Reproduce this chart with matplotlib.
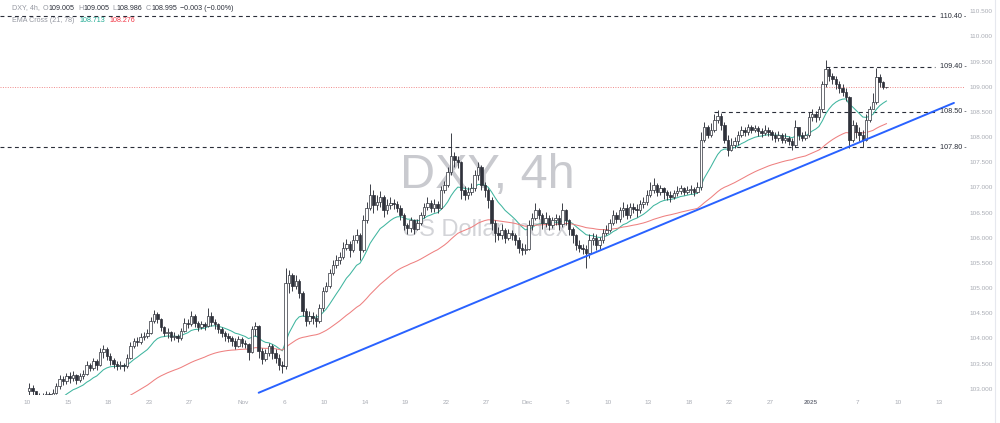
import numpy as np
import pandas as pd
import matplotlib
matplotlib.use("Agg")
import matplotlib.pyplot as plt
from matplotlib.patches import Rectangle
from matplotlib.collections import PatchCollection

plt.rcParams['font.family'] = ['Liberation Sans', 'DejaVu Sans']

# DXY 4h, one row per session day (Oct 10 2024 .. Jan 9 2025)
close_rows = [
    [103.02, 102.95, 102.80, 102.86],  # Oct 10
    [102.84, 102.90, 102.86, 102.92],
    [103.05, 103.20, 103.15, 103.25],
    [103.22, 103.28, 103.18, 103.25],
    [103.30, 103.48, 103.42, 103.55],
    [103.48, 103.72, 103.78, 103.65],
    [103.58, 103.50, 103.45, 103.48],
    [103.45, 103.62, 103.85, 103.95],  # Oct 21
    [103.92, 104.02, 104.05, 104.10],
    [104.35, 104.48, 104.38, 104.22],
    [104.10, 104.12, 104.02, 104.05],
    [104.00, 104.15, 104.30, 104.28],
    [104.45, 104.30, 104.22, 104.28],  # Oct 28
    [104.25, 104.45, 104.32, 104.28],
    [104.18, 104.10, 104.05, 104.00],
    [103.95, 103.85, 103.98, 103.90],
    [103.88, 103.72, 104.18, 104.25],
    [103.75, 103.60, 103.70, 103.85],  # Nov 4
    [103.70, 103.62, 103.48, 103.45],
    [105.10, 105.25, 105.05, 105.15],
    [104.90, 104.55, 104.35, 104.45],
    [104.40, 104.35, 104.60, 104.95],
    [105.05, 105.30, 105.45, 105.55],  # Nov 11
    [105.62, 105.80, 105.88, 105.75],
    [105.95, 106.05, 105.75, 106.35],
    [106.60, 106.85, 106.65, 106.72],
    [106.80, 106.55, 106.65, 106.70],
    [106.68, 106.60, 106.45, 106.25],  # Nov 18
    [106.20, 106.35, 106.18, 106.30],
    [106.45, 106.62, 106.70, 106.60],
    [106.68, 106.60, 106.95, 107.05],
    [107.30, 107.62, 107.55, 107.50],
    [106.95, 106.85, 106.90, 106.98],  # Nov 25
    [107.25, 107.40, 107.05, 106.95],
    [106.75, 106.30, 106.10, 106.05],
    [106.15, 106.00, 106.10, 106.05],
    [105.95, 105.80, 105.75, 105.78],
    [106.25, 106.40, 106.55, 106.45],  # Dec 2
    [106.30, 106.40, 106.25, 106.35],
    [106.40, 106.28, 106.55, 106.35],
    [106.18, 106.05, 105.85, 105.80],
    [105.78, 105.70, 105.95, 106.00],
    [105.85, 105.95, 106.10, 106.15],  # Dec 9
    [106.30, 106.45, 106.38, 106.55],
    [106.60, 106.45, 106.62, 106.58],
    [106.55, 106.68, 106.72, 106.85],
    [106.95, 107.05, 106.90, 106.98],
    [106.90, 106.85, 106.80, 106.88],  # Dec 16
    [106.92, 106.98, 106.90, 106.95],
    [106.96, 106.90, 107.00, 107.95],
    [108.20, 108.05, 108.15, 108.35],
    [108.42, 108.25, 107.95, 107.75],
    [107.85, 107.92, 108.05, 108.15],  # Dec 23
    [108.10, 108.20, 108.15, 108.18],
    [108.12, 108.08, 108.15, 108.10],
    [108.05, 107.98, 108.05, 107.95],
    [107.98, 107.92, 107.85, 108.20],  # Dec 30
    [108.05, 107.98, 108.05, 108.40],
    [108.45, 108.40],                  # Jan 1
    [108.55, 109.05, 109.35, 109.22],
    [109.15, 109.05, 108.98, 108.90],
    [108.80, 107.95, 108.25, 108.10],  # Jan 6
    [108.05, 107.95, 108.35, 108.55],
    [108.70, 109.20, 109.10, 109.005],
    [108.995],                         # Jan 9
]
high_rows = [
    [103.12, 103.08, 102.96, 102.92],
    [102.92, 102.95, 102.93, 103.00],
    [103.12, 103.28, 103.26, 103.32],
    [103.33, 103.36, 103.30, 103.32],
    [103.38, 103.55, 103.52, 103.62],
    [103.60, 103.80, 103.86, 103.82],
    [103.70, 103.62, 103.55, 103.56],
    [103.52, 103.68, 103.92, 104.00],
    [104.02, 104.10, 104.12, 104.18],
    [104.42, 104.56, 104.52, 104.40],
    [104.25, 104.20, 104.15, 104.12],
    [104.08, 104.20, 104.40, 104.38],
    [104.55, 104.48, 104.35, 104.34],
    [104.33, 104.60, 104.52, 104.38],
    [104.30, 104.22, 104.15, 104.10],
    [104.04, 104.00, 104.05, 104.02],
    [103.96, 103.90, 104.25, 104.32],
    [104.26, 103.80, 103.78, 103.90],
    [103.88, 103.78, 103.68, 103.55],
    [105.40, 105.35, 105.30, 105.25],
    [105.18, 104.95, 104.60, 104.55],
    [104.52, 104.48, 104.68, 105.02],
    [105.12, 105.38, 105.55, 105.65],
    [105.72, 105.92, 105.98, 105.94],
    [106.05, 106.18, 106.10, 106.45],
    [106.72, 107.07, 106.95, 106.85],
    [106.92, 106.85, 106.78, 106.80],
    [106.78, 106.74, 106.65, 106.50],
    [106.30, 106.42, 106.38, 106.38],
    [106.52, 106.70, 106.80, 106.75],
    [106.78, 106.74, 107.02, 107.12],
    [107.40, 108.08, 107.70, 107.62],
    [107.52, 107.02, 107.00, 107.08],
    [107.35, 107.50, 107.45, 107.10],
    [106.98, 106.80, 106.35, 106.22],
    [106.28, 106.20, 106.18, 106.15],
    [106.10, 106.02, 105.90, 105.88],
    [106.35, 106.50, 106.70, 106.60],
    [106.50, 106.52, 106.45, 106.42],
    [106.48, 106.45, 106.70, 106.58],
    [106.38, 106.22, 106.08, 105.95],
    [105.88, 105.85, 106.08, 106.10],
    [106.08, 106.02, 106.18, 106.25],
    [106.38, 106.55, 106.52, 106.62],
    [106.72, 106.68, 106.70, 106.70],
    [106.68, 106.76, 106.80, 106.95],
    [107.10, 107.18, 107.08, 107.05],
    [107.00, 106.95, 106.92, 106.95],
    [107.02, 107.05, 107.00, 107.02],
    [107.04, 107.00, 107.10, 108.10],
    [108.30, 108.25, 108.28, 108.45],
    [108.54, 108.48, 108.30, 108.05],
    [107.98, 108.00, 108.12, 108.22],
    [108.20, 108.26, 108.24, 108.24],
    [108.22, 108.18, 108.24, 108.20],
    [108.14, 108.10, 108.12, 108.08],
    [108.08, 108.02, 107.98, 108.35],
    [108.20, 108.10, 108.12, 108.50],
    [108.55, 108.52],
    [108.62, 109.12, 109.54, 109.40],
    [109.28, 109.22, 109.12, 109.05],
    [108.98, 108.82, 108.35, 108.30],
    [108.20, 108.15, 108.45, 108.62],
    [108.88, 109.38, 109.25, 109.12],
    [109.005],
]
low_rows = [
    [102.85, 102.84, 102.74, 102.76],
    [102.75, 102.80, 102.80, 102.84],
    [102.90, 103.00, 103.08, 103.10],
    [103.12, 103.16, 103.10, 103.14],
    [103.20, 103.28, 103.35, 103.38],
    [103.38, 103.45, 103.62, 103.58],
    [103.48, 103.42, 103.38, 103.40],
    [103.36, 103.42, 103.60, 103.80],
    [103.84, 103.88, 103.96, 104.00],
    [104.08, 104.30, 104.30, 104.15],
    [104.05, 104.00, 103.95, 103.96],
    [103.92, 103.96, 104.12, 104.20],
    [104.25, 104.22, 104.14, 104.18],
    [104.16, 104.22, 104.25, 104.18],
    [104.10, 104.02, 103.95, 103.92],
    [103.84, 103.78, 103.82, 103.82],
    [103.80, 103.58, 103.70, 104.05],
    [103.62, 103.50, 103.55, 103.65],
    [103.60, 103.52, 103.38, 103.32],
    [103.40, 104.90, 104.95, 104.98],
    [104.80, 104.45, 104.25, 104.28],
    [104.28, 104.22, 104.30, 104.55],
    [104.92, 105.00, 105.25, 105.40],
    [105.48, 105.58, 105.75, 105.62],
    [105.72, 105.90, 105.55, 105.72],
    [106.30, 106.55, 106.50, 106.55],
    [106.62, 106.42, 106.48, 106.58],
    [106.58, 106.52, 106.35, 106.15],
    [106.08, 106.12, 106.08, 106.15],
    [106.25, 106.40, 106.55, 106.52],
    [106.52, 106.50, 106.58, 106.88],
    [107.00, 107.25, 107.40, 107.38],
    [106.78, 106.75, 106.78, 106.85],
    [106.92, 107.15, 106.95, 106.80],
    [106.60, 106.15, 105.92, 105.95],
    [105.98, 105.90, 105.95, 105.96],
    [105.85, 105.70, 105.66, 105.68],
    [105.76, 106.15, 106.35, 106.38],
    [106.18, 106.22, 106.15, 106.20],
    [106.26, 106.15, 106.22, 106.25],
    [106.05, 105.90, 105.75, 105.72],
    [105.68, 105.40, 105.60, 105.85],
    [105.75, 105.78, 105.90, 106.05],
    [106.12, 106.25, 106.30, 106.32],
    [106.42, 106.38, 106.40, 106.50],
    [106.42, 106.50, 106.60, 106.65],
    [106.80, 106.88, 106.82, 106.85],
    [106.78, 106.75, 106.72, 106.78],
    [106.82, 106.86, 106.84, 106.86],
    [106.86, 106.82, 106.88, 106.95],
    [107.90, 107.98, 108.00, 108.10],
    [108.28, 108.15, 107.88, 107.62],
    [107.72, 107.78, 107.85, 108.00],
    [108.02, 108.05, 108.08, 108.10],
    [108.02, 108.00, 108.04, 108.02],
    [107.95, 107.90, 107.92, 107.88],
    [107.88, 107.84, 107.75, 107.80],
    [107.95, 107.92, 107.95, 108.00],
    [108.32, 108.30],
    [108.35, 108.50, 109.00, 109.12],
    [109.05, 108.96, 108.88, 108.82],
    [108.72, 107.78, 107.90, 107.98],
    [107.92, 107.80, 107.92, 108.30],
    [108.55, 108.65, 109.00, 108.95],
    [108.986],
]
first_open = 102.95

# EMA Cross (21, 78): values where the indicator stood before the first bar
ema_fast_seed = 102.20
ema_slow_seed = 101.70
ema_fast_last = 108.713
ema_slow_last = 108.276

# drawn objects
level_prices = [110.40, 109.40, 108.50, 107.80]
level_labels = ["110.40", "109.40", "108.50", "107.80"]
level_from_bar = [None, 236, 203, None]
trend_bars = [68, 274]
trend_prices = [102.92, 108.68]

tick_dates = ["2024-10-10", "2024-10-15", "2024-10-18", "2024-10-23", "2024-10-27",
              "2024-11-01", "2024-11-06", "2024-11-10", "2024-11-14", "2024-11-19",
              "2024-11-22", "2024-11-27", "2024-12-01", "2024-12-05", "2024-12-10",
              "2024-12-13", "2024-12-18", "2024-12-22", "2024-12-27", "2025-01-01",
              "2025-01-07", "2025-01-10", "2025-01-13"]
tick_labels = ["10", "15", "18", "23", "27", "Nov", "6", "10", "14", "19", "22", "27",
               "Dec", "5", "10", "13", "18", "22", "27", "2025", "7", "10", "13"]

# ---- build bars
days = pd.bdate_range("2024-10-10", "2025-01-09")
days = days[days != pd.Timestamp("2024-12-25")]
closes = np.array([v for r in close_rows for v in r])
highs = np.array([v for r in high_rows for v in r])
lows = np.array([v for r in low_rows for v in r])
opens = np.r_[first_open, closes[:-1]]
bar_day = np.concatenate([[d] * len(r) for d, r in zip(days, close_rows)])
idx = np.arange(len(closes))


def ema(values, n_4h, seed):
    # 4 bars a day here against 6 on the real 4h chart
    span = n_4h * 4 / 6
    a = 2 / (span + 1)
    out = np.empty(len(values))
    prev = seed
    for k, v in enumerate(values):
        prev = prev + a * (v - prev)
        out[k] = prev
    return out


ema_fast = ema(closes, 21, ema_fast_seed)
ema_slow = ema(closes, 78, ema_slow_seed)


def tick_pos(date):
    t = pd.Timestamp(date)
    later = np.nonzero(bar_day >= t)[0]
    if len(later):
        return later[0] - 0.5
    last_day_start = np.nonzero(bar_day == bar_day[-1])[0][0]
    return last_day_start + 4 * (t - bar_day[-1]).days - 0.5


# ---- figure
W, H = 1000, 423
fig = plt.figure(figsize=(10, 4.23), dpi=100)
ax = fig.add_axes([0, (H - 395) / H, 965 / W, 395 / H])
ax.set_facecolor('white')

x_left = -27.5 / 3.375 - 0.5
x_right = (965 - 27.5) / 3.375 - 0.5
ax.set_xlim(x_left, x_right)
ax.set_ylim(102.875, 110.725)

# watermark
ax.text(487 / 965, 1 - 175 / 395, "DXY, 4h", transform=ax.transAxes, fontsize=35,
        color='#c9cacf', ha='center', va='center', zorder=0)
ax.text(485 / 965, 1 - 230 / 395, "US Dollar Index", transform=ax.transAxes, fontsize=17,
        color='#d3d4d8', ha='center', va='center', zorder=0)

# candles
ink = '#2f323b'
ax.vlines(idx, lows, highs, color=ink, lw=0.65, zorder=3)
bodies_up, bodies_dn = [], []
bw = 0.72
for i in idx:
    o, c = opens[i], closes[i]
    lo, hi = min(o, c), max(o, c)
    r = Rectangle((i - bw / 2, lo), bw, max(hi - lo, 0.008))
    (bodies_up if c >= o else bodies_dn).append(r)
ax.add_collection(PatchCollection(bodies_up, facecolor='white', edgecolor=ink, lw=0.5, zorder=4))
ax.add_collection(PatchCollection(bodies_dn, facecolor=ink, edgecolor=ink, lw=0.5, zorder=4))

# EMAs
ax.plot(idx, ema_fast, color='#3fb59f', lw=0.75, zorder=2)
ax.plot(idx, ema_slow, color='#ee8080', lw=0.75, zorder=2)

# trendline
ax.plot(trend_bars, trend_prices, color='#2962ff', lw=1.4, zorder=5, solid_capstyle='round')

# last price line
ax.axhline(closes[-1], color='#f08a8a', lw=0.7, ls=(0, (1, 1.5)), zorder=1)

# horizontal levels
x_end = (935 - 27.5) / 3.375 - 0.5
x_lab = (940 - 27.5) / 3.375 - 0.5
for p, lab, b0 in zip(level_prices, level_labels, level_from_bar):
    start = x_left if b0 is None else b0
    ax.plot([start, x_end], [p, p], color='#2a2e39', lw=0.8, ls=(0, (3.5, 3)), zorder=1)
    ax.text(x_lab, p, lab + " -", color='#2a2e39', fontsize=5.2, va='center', ha='left', zorder=6)

# axes cosmetics
for s in ax.spines.values():
    s.set_visible(False)
ax.yaxis.tick_right()
ax.set_yticks(np.arange(103.0, 110.51, 0.5))
ax.set_yticklabels([f"{v:.3f}" for v in np.arange(103.0, 110.51, 0.5)])
ax.tick_params(axis='y', length=0, pad=3, labelsize=4.6, labelcolor='#a9acb4')
ax.set_xticks([tick_pos(d) for d in tick_dates])
ax.set_xticklabels(tick_labels)
ax.tick_params(axis='x', length=0, pad=3.5, labelsize=4.6, labelcolor='#a9acb4')
for t in ax.get_xticklabels():
    if t.get_text() == "2025":
        t.set_color('#787b86')
        t.set_fontweight('bold')

# pane border on the right
fig.add_artist(plt.Line2D([995 / W, 995 / W], [0, 1], color='#e6e8ee', lw=0.8))

# header legend, pieces laid out one after the other
grey, dark = '#9598a1', '#2a2e39'
renderer = fig.canvas.get_renderer()


def header(x, y, parts, size=5.1):
    for s, col, gap in parts:
        x += gap
        t = fig.text(x / W, 1 - y / H, s, color=col, fontsize=size, va='center', ha='left')
        x = t.get_window_extent(renderer).x1


header(12, 8, [("DXY, 4h,", grey, 0), ("O", grey, 3), ("109.005", dark, 0),
               ("H", grey, 3.5), ("109.005", dark, 0), ("L", grey, 3.5), ("108.986", dark, 0),
               ("C", grey, 3.5), ("108.995", dark, 0), ("\u22120.003 (\u22120.00%)", dark, 3.5)])
header(12, 20, [("EMA Cross (21, 78)", grey, 0), (f"{ema_fast_last:.3f}", '#22ab94', 5),
                (f"{ema_slow_last:.3f}", '#f23645', 4)])

fig.savefig("out.png", dpi=100, facecolor='white')
